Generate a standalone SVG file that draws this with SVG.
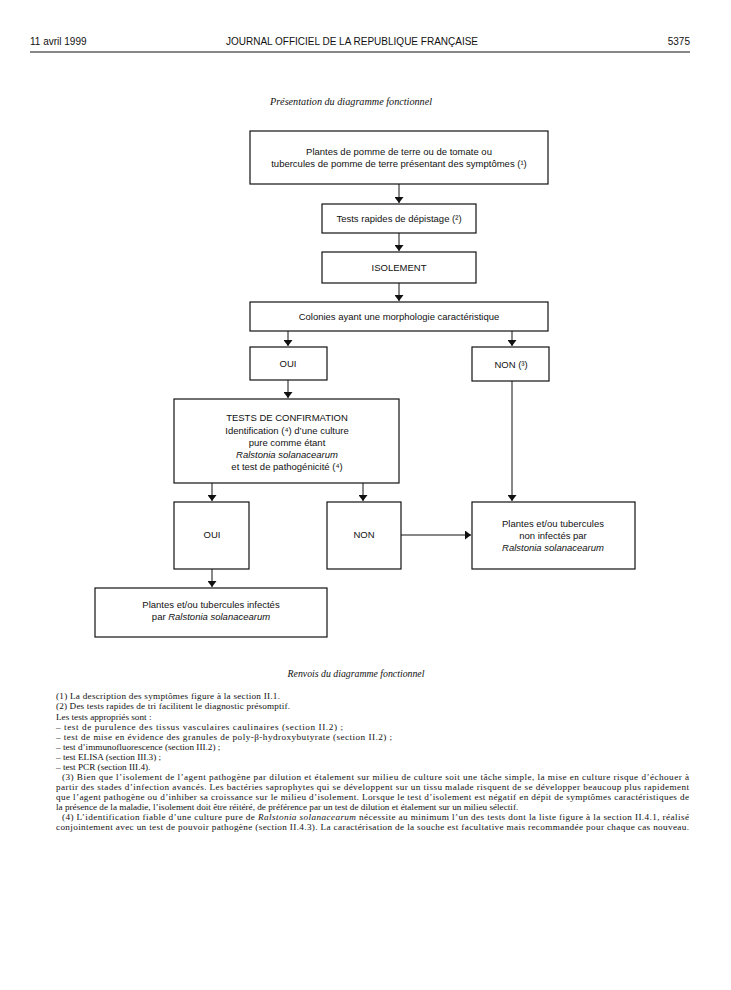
<svg xmlns="http://www.w3.org/2000/svg" width="731" height="990" viewBox="0 0 731 990">
<style>
.hdr{font-family:"Liberation Sans",Arial,sans-serif;font-size:10px;fill:#111}
.box{fill:#fff;stroke:#111;stroke-width:1.2}
.t{font-family:"Liberation Sans",Arial,sans-serif;font-size:9.5px;fill:#111;text-anchor:middle}
.ti{font-family:"Liberation Serif","Times New Roman",serif;font-style:italic;font-size:10.2px;fill:#111}
.it{font-style:italic}
.fn{font-family:"Liberation Serif","Times New Roman",serif;font-size:9.2px;fill:#111}
.ln{stroke:#111;stroke-width:1;fill:none}
</style>
<defs>
<marker id="ah" viewBox="0 0 6 9" refX="6" refY="4.5" markerWidth="6" markerHeight="9" markerUnits="userSpaceOnUse" orient="auto">
<path d="M0,0 L6,4.5 L0,9 Z" fill="#111"/>
</marker>
</defs>
<rect width="731" height="990" fill="#fff"/>
<g id="header">
<text class="hdr" x="30" y="45">11 avril 1999</text>
<text class="hdr" x="352" y="45" text-anchor="middle">JOURNAL OFFICIEL DE LA REPUBLIQUE FRANÇAISE</text>
<text class="hdr" x="690" y="45" text-anchor="end">5375</text>
<line x1="30" y1="52" x2="690" y2="52" stroke="#111" stroke-width="1"/>
</g>
<text class="ti" x="351" y="105" text-anchor="middle">Présentation du diagramme fonctionnel</text>
<g id="connectors">
<line class="ln" x1="399" y1="184" x2="399" y2="203" marker-end="url(#ah)"/>
<line class="ln" x1="399" y1="233" x2="399" y2="251" marker-end="url(#ah)"/>
<line class="ln" x1="399" y1="283" x2="399" y2="301" marker-end="url(#ah)"/>
<line class="ln" x1="288" y1="331" x2="288" y2="346" marker-end="url(#ah)"/>
<line class="ln" x1="512" y1="331" x2="512" y2="346" marker-end="url(#ah)"/>
<line class="ln" x1="288" y1="380" x2="288" y2="398" marker-end="url(#ah)"/>
<line class="ln" x1="512" y1="381" x2="512" y2="501" marker-end="url(#ah)"/>
<line class="ln" x1="212" y1="483" x2="212" y2="501" marker-end="url(#ah)"/>
<line class="ln" x1="363" y1="483" x2="363" y2="501" marker-end="url(#ah)"/>
<line class="ln" x1="401" y1="535" x2="471" y2="535" marker-end="url(#ah)"/>
<line class="ln" x1="212" y1="569" x2="212" y2="587" marker-end="url(#ah)"/>
</g>
<g id="n1">
<rect class="box" x="250" y="131" width="298" height="53"/>
<text class="t" x="399" y="155">Plantes de pomme de terre ou de tomate ou</text>
<text class="t" x="399" y="167">tubercules de pomme de terre présentant des symptômes (¹)</text>
</g>
<g id="n2">
<rect class="box" x="322" y="204" width="154" height="29"/>
<text class="t" x="399" y="222">Tests rapides de dépistage (²)</text>
</g>
<g id="n3">
<rect class="box" x="322" y="252" width="154" height="31"/>
<text class="t" x="399" y="271">ISOLEMENT</text>
</g>
<g id="n4">
<rect class="box" x="250" y="302" width="298" height="29"/>
<text class="t" x="399" y="320">Colonies ayant une morphologie caractéristique</text>
</g>
<g id="n5">
<rect class="box" x="250" y="347" width="77" height="33"/>
<text class="t" x="288" y="367">OUI</text>
</g>
<g id="n6">
<rect class="box" x="472" y="347" width="77" height="34"/>
<text class="t" x="511" y="368">NON (³)</text>
</g>
<g id="n7">
<rect class="box" x="174" y="399" width="225" height="84"/>
<text class="t" x="287" y="421">TESTS DE CONFIRMATION</text>
<text class="t" x="287" y="434">Identification (⁴) d’une culture</text>
<text class="t" x="287" y="446">pure comme étant</text>
<text class="t it" x="287" y="458">Ralstonia solanacearum</text>
<text class="t" x="287" y="470">et test de pathogénicité (⁴)</text>
</g>
<g id="n8">
<rect class="box" x="174" y="502" width="75" height="67"/>
<text class="t" x="212" y="538">OUI</text>
</g>
<g id="n9">
<rect class="box" x="327" y="502" width="74" height="67"/>
<text class="t" x="364" y="538">NON</text>
</g>
<g id="n10">
<rect class="box" x="472" y="502" width="163" height="67"/>
<text class="t" x="553" y="527">Plantes et/ou tubercules</text>
<text class="t" x="553" y="539">non infectés par</text>
<text class="t it" x="553" y="551">Ralstonia solanacearum</text>
</g>
<g id="n11">
<rect class="box" x="95" y="588" width="232" height="49"/>
<text class="t" x="211" y="608">Plantes et/ou tubercules infectés</text>
<text class="t" x="211" y="620">par <tspan class="it">Ralstonia solanacearum</tspan></text>
</g>
<g id="notes">
<text class="ti" x="356" y="677" text-anchor="middle" style="font-size:9.8px">Renvois du diagramme fonctionnel</text>
<text class="fn" x="56" y="699" textLength="224" lengthAdjust="spacing">(1) La description des symptômes figure à la section II.1.</text>
<text class="fn" x="56" y="709" textLength="234" lengthAdjust="spacing">(2) Des tests rapides de tri facilitent le diagnostic présomptif.</text>
<text class="fn" x="56" y="720">Les tests appropriés sont :</text>
<text class="fn" x="56" y="730" textLength="287" lengthAdjust="spacing">– test de purulence des tissus vasculaires caulinaires (section II.2) ;</text>
<text class="fn" x="56" y="740" textLength="336" lengthAdjust="spacing">– test de mise en évidence des granules de poly-β-hydroxybutyrate (section II.2) ;</text>
<text class="fn" x="56" y="750">– test d’immunofluorescence (section III.2) ;</text>
<text class="fn" x="56" y="760">– test ELISA (section III.3) ;</text>
<text class="fn" x="56" y="770">– test PCR (section III.4).</text>
<text class="fn" x="62" y="780" textLength="627" lengthAdjust="spacing">(3) Bien que l’isolement de l’agent pathogène par dilution et étalement sur milieu de culture soit une tâche simple, la mise en culture risque d’échouer à</text>
<text class="fn" x="56" y="790" textLength="633" lengthAdjust="spacing">partir des stades d’infection avancés. Les bactéries saprophytes qui se développent sur un tissu malade risquent de se développer beaucoup plus rapidement</text>
<text class="fn" x="56" y="800" textLength="633" lengthAdjust="spacing">que l’agent pathogène ou d’inhiber sa croissance sur le milieu d’isolement. Lorsque le test d’isolement est négatif en dépit de symptômes caractéristiques de</text>
<text class="fn" x="56" y="810">la présence de la maladie, l’isolement doit être réitéré, de préférence par un test de dilution et étalement sur un milieu sélectif.</text>
<text class="fn" x="62" y="820" textLength="627" lengthAdjust="spacing">(4) L’identification fiable d’une culture pure de <tspan font-style="italic">Ralstonia solanacearum</tspan> nécessite au minimum l’un des tests dont la liste figure à la section II.4.1, réalisé</text>
<text class="fn" x="56" y="830" textLength="633" lengthAdjust="spacing">conjointement avec un test de pouvoir pathogène (section II.4.3). La caractérisation de la souche est facultative mais recommandée pour chaque cas nouveau.</text>
</g>
</svg>
